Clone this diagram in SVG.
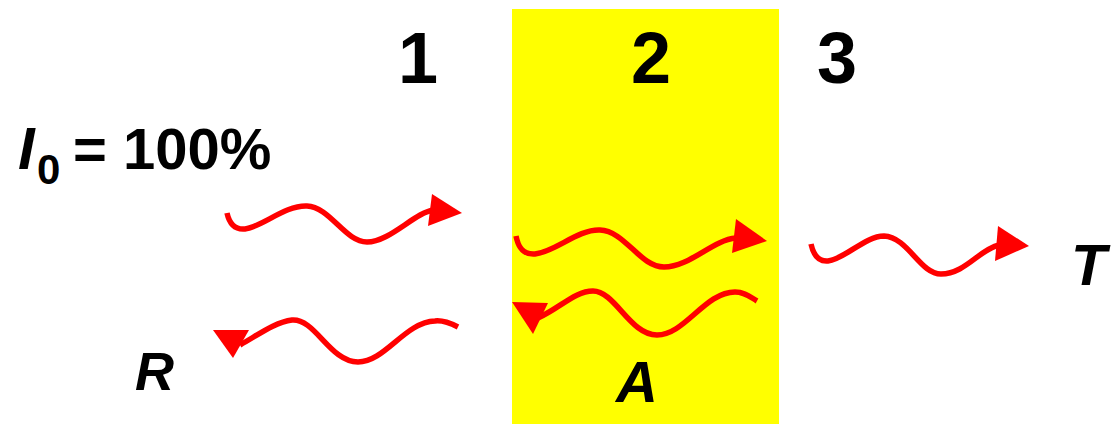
<svg xmlns="http://www.w3.org/2000/svg" width="1115" height="424" viewBox="0 0 1115 424">
<style>
.t{font-family:"Liberation Sans",Arial,sans-serif;font-weight:bold;fill:#000}
.i{font-style:italic}
.w{fill:none;stroke:#ff0000;stroke-width:5.5}
.h{fill:#ff0000}
</style>
<rect width="1115" height="424" fill="#fff"/>
<g id="slab"><rect x="512" y="9" width="267" height="415" fill="#ffff00"/></g>
<g id="labels">
<text class="t" x="418" y="83" font-size="72" text-anchor="middle">1</text>
<text class="t" x="651" y="83" font-size="72" text-anchor="middle">2</text>
<text class="t" x="837" y="83" font-size="72" text-anchor="middle">3</text>
<text class="t i" x="18" y="169" font-size="60">I</text>
<text class="t" x="37" y="184" font-size="42">0</text>
<text class="t" x="73" y="169" font-size="58">= 100%</text>
<text class="t i" x="135" y="390" font-size="54">R</text>
<text class="t i" x="616" y="402" font-size="58">A</text>
<text class="t i" x="1071" y="285" font-size="58">T</text>
</g>
<g id="connectors">
<path class="w" d="M227,213 C229,222 234,230 245,229 C262,227 285,205 307,206 C330,207 345,242 367,242 C390,242 415,212 434,210"/>
<polygon class="h" points="462,213 432,194 428,226"/>
<path class="w" d="M458,327 C450,323 443,320 435,321 C405,322 385,362 358,362 C330,362 315,318 292,320 C275,322 258,335 240,345"/>
<polygon class="h" points="213,330 249,330 233,358"/>
<path class="w" d="M516,236 C518,246 522,255 535,254 C555,252 578,229 600,230 C625,231 640,267 664,267 C690,267 712,240 736,238"/>
<polygon class="h" points="767,241 736,219 732,253"/>
<path class="w" d="M757,301 C750,297 745,292 735,292 C705,292 685,335 657,335 C630,335 615,291 593,291 C575,291 560,308 538,318"/>
<polygon class="h" points="512,302 548,303 533,334"/>
<path class="w" d="M811,244 C813,253 817,262 828,261 C845,259 865,236 884,236 C908,237 920,274 941,274 C965,274 980,249 999,245"/>
<polygon class="h" points="1029,246 998,226 995,261"/>
</g>
</svg>
